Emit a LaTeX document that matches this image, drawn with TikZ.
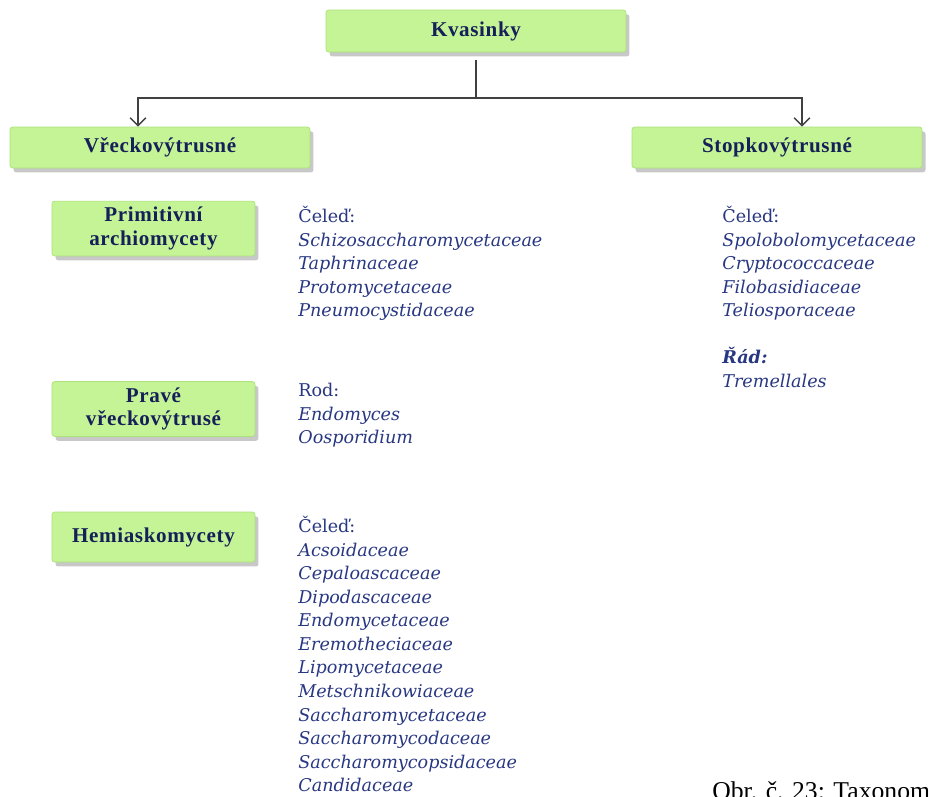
\documentclass[tikz,border=0pt]{standalone}
\usepackage{fontspec}
\setmainfont{Liberation Serif}
\newfontfamily\boxfont{Liberation Serif}[LetterSpace=3]
\newfontfamily\listfont{DejaVu Serif}
\usetikzlibrary{arrows.meta,positioning,shadows}
\definecolor{boxgreen}{RGB}{197,244,150}
\definecolor{boxedge}{RGB}{172,226,124}
\definecolor{boxtext}{RGB}{22,32,88}
\definecolor{listtext}{RGB}{40,55,130}
\definecolor{linkgray}{RGB}{64,64,64}
\tikzset{
  taxon/.style={draw=boxedge, line width=0.4pt, fill=boxgreen, rounded corners=1.5pt, align=center, text=boxtext, font=\boxfont\bfseries\fontsize{12}{13.6}\selectfont, drop shadow={shadow xshift=2pt, shadow yshift=-2.5pt, opacity=0.3, fill=black!70}},
  famlist/.style={anchor=north west, inner sep=0pt, align=left, text=listtext, font=\listfont\fontsize{10}{13.4}\selectfont},
  link/.style={draw=linkgray, line width=0.8pt},
  arrowlink/.style={link, -{Straight Barb[length=4.5pt,width=9pt]}}
}

\begin{document}
\begin{tikzpicture}[x=0.02cm, y=-0.02cm]
  \fill[white] (0,0) rectangle (929,796);
  \useasboundingbox (0,0) rectangle (929,796);

  % top and the two branches
  \node[taxon, minimum width=6cm, minimum height=0.84cm] (kvasinky) at (476,31) {Kvasinky};
  \node[taxon, minimum width=6cm, minimum height=0.82cm] (vreck) at (160,147.5) {Vřeckovýtrusné};
  \node[taxon, minimum width=5.8cm, minimum height=0.82cm] (stopk) at (777,147.5) {Stopkovýtrusné};

  \coordinate (fork) at (476,98);
  \draw[link, shorten <=0.16cm] (kvasinky) -- (fork);
  \draw[arrowlink] (fork) -| ([xshift=-0.44cm]vreck.north);
  \draw[arrowlink] (fork) -| ([xshift=0.5cm]stopk.north);

  % groups of Vreckovytrusne
  \node[taxon, minimum width=4.06cm, minimum height=1.02cm] (primit) at (153.5,228.5) {Primitivní\\archiomycety};
  \node[taxon, minimum width=4.06cm, minimum height=1.04cm, below=2.5cm of primit] (prave) {Pravé\\vřeckovýtrusé};
  \node[taxon, minimum width=4.06cm, minimum height=1.0cm, below=1.5cm of prave] (hemi) {Hemiaskomycety};

  \node[famlist] (primitlist) at (298,206) {Čeleď:\\\textit{Schizosaccharomycetaceae}\\\textit{Taphrinaceae}\\\textit{Protomycetaceae}\\\textit{Pneumocystidaceae}};
  \node[famlist] (pravelist) at (298,383) {Rod:\\\textit{Endomyces}\\\textit{Oosporidium}};
  \node[famlist] (hemilist) at (298,516) {Čeleď:\\\textit{Acsoidaceae}\\\textit{Cepaloascaceae}\\\textit{Dipodascaceae}\\\textit{Endomycetaceae}\\\textit{Eremotheciaceae}\\\textit{Lipomycetaceae}\\\textit{Metschnikowiaceae}\\\textit{Saccharomycetaceae}\\\textit{Saccharomycodaceae}\\\textit{Saccharomycopsidaceae}\\\textit{Candidaceae}};

  % Stopkovytrusne
  \node[famlist] (stopklist) at (722,206) {Čeleď:\\\textit{Spolobolomycetaceae}\\\textit{Cryptococcaceae}\\\textit{Filobasidiaceae}\\\textit{Teliosporaceae}\\[13.4pt]\textbf{\textit{Řád:}}\\\textit{Tremellales}};

  \node[anchor=base west, inner sep=0pt, font=\fontsize{14.6}{16}\selectfont] (caption) at (712,799) {Obr. č. 23: Taxonom};
\end{tikzpicture}
\end{document}
